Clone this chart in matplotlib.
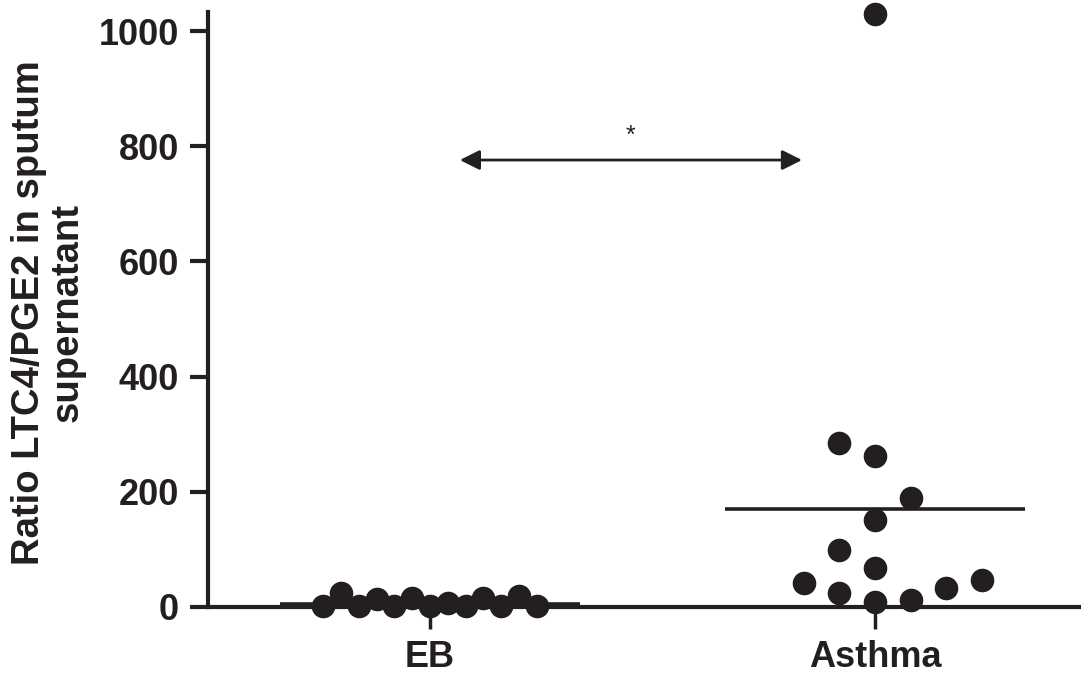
import matplotlib
matplotlib.use("Agg")
import matplotlib.pyplot as plt

# ---- data ----
categories = ["EB", "Asthma"]
eb_values = [2, 24, 2, 14, 2, 16, 2, 7, 2, 16, 2, 19, 2]
eb_offsets = [-0.24, -0.20, -0.16, -0.12, -0.08, -0.04, 0.0, 0.04, 0.08, 0.12, 0.16, 0.20, 0.24]
asthma_values = [1029, 285, 262, 189, 151, 99, 68, 42, 24, 8, 12, 33, 47]
asthma_offsets = [0.0, -0.08, 0.0, 0.08, 0.0, -0.08, 0.0, -0.16, -0.08, 0.0, 0.08, 0.16, 0.24]
medians = [5, 171]
yticks = [0, 200, 400, 600, 800, 1000]
sig_label = "*"
sig_span = (0.067, 0.836)
sig_level = 776

ylabel = "Ratio LTC4/PGE2 in sputum\nsupernatant"

dark = "#231f20"
plt.rcParams["font.family"] = ["Liberation Sans", "DejaVu Sans"]

fig = plt.figure(figsize=(10.81, 6.74), dpi=100)
ax = fig.add_axes([208 / 1081, 67 / 674, 1 - 208 / 1081, (607 - 12) / 674])

groups = [eb_values, asthma_values]
offsets = [eb_offsets, asthma_offsets]
for i, (vals, offs) in enumerate(zip(groups, offsets)):
    xs = [i + o for o in offs]
    ax.plot(xs, vals, linestyle="none", marker="o", markersize=17,
            color=dark, markeredgewidth=0, clip_on=False, zorder=3)
    ax.plot([i - 0.337, i + 0.337], [medians[i], medians[i]], color=dark,
            lw=2.6, solid_capstyle="butt", clip_on=False, zorder=4)

ax.annotate("", xy=(sig_span[1], sig_level), xytext=(sig_span[0], sig_level),
            arrowprops=dict(arrowstyle="<|-|>,head_length=0.6,head_width=0.3",
                            mutation_scale=20, color=dark, lw=2,
                            shrinkA=0, shrinkB=0))
ax.text((sig_span[0] + sig_span[1]) / 2, sig_level + 42, sig_label,
        ha="center", va="center", fontsize=18, color=dark)

ax.set_xlim(-0.499, 1.463)
ax.set_ylim(0, 1033)
ax.set_xticks(range(len(categories)))
ax.set_xticklabels(categories)
ax.set_yticks(yticks)

for side in ["top", "right"]:
    ax.spines[side].set_visible(False)
for side in ["left", "bottom"]:
    ax.spines[side].set_linewidth(3)
    ax.spines[side].set_color(dark)

ax.tick_params(axis="y", length=13, width=3, color=dark, pad=8,
               labelsize=26, labelcolor=dark)
ax.tick_params(axis="x", length=16, width=2.5, color=dark, pad=8,
               labelsize=26, labelcolor=dark)
for lab in ax.get_xticklabels() + ax.get_yticklabels():
    lab.set_fontweight("bold")

fig.text(48 / 1081, 1 - 313 / 674, ylabel, rotation=90, ha="center",
         va="center", fontsize=27.5, fontweight="bold", color=dark,
         linespacing=1.1, multialignment="center")

fig.savefig("out.png", dpi=100)
